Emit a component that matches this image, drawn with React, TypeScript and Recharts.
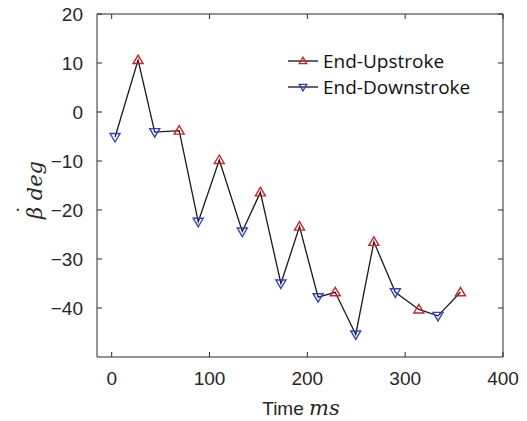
import React from "react";
import { LineChart, Line, XAxis, YAxis, ReferenceLine } from "recharts";

const times = [3.5, 27, 44, 69, 88.5, 110, 133.5, 152, 173, 192, 211, 228.5, 249.5, 268, 290, 314, 333.5, 356.5];
const values = [-5.1, 10.6, -4.1, -3.8, -22.4, -9.8, -24.4, -16.4, -35.0, -23.4, -37.8, -36.8, -45.4, -26.5, -36.8, -40.3, -41.6, -36.8];
const phases = ["down", "up", "down", "up", "down", "up", "down", "up", "down", "up", "down", "up", "down", "up", "down", "up", "down", "up"];
const xTicks = [0, 100, 200, 300, 400];
const yTicks = [-40, -30, -20, -10, 0, 10, 20];
const xDomain: [number, number] = [-15, 400];
const yDomain: [number, number] = [-50, 20];
const legendLabels = ["End-Upstroke", "End-Downstroke"];

const data = times.map((t, i) => ({ t, v: values[i], phase: phases[i] }));

const RED = "#c1272d";
const BLUE = "#3342b8";
const FRAME = "#2b2b2b";
const TICK = 5;

const fmt = (v: number) => (v < 0 ? "\u2212" + Math.abs(v) : String(v));

const triPath = (cx: number, cy: number, up: boolean, s = 1) =>
  up
    ? `M${cx},${cy - 5 * s} L${cx + 5 * s},${cy + 3.5 * s} L${cx - 5 * s},${cy + 3.5 * s} Z`
    : `M${cx},${cy + 5 * s} L${cx + 5 * s},${cy - 3.5 * s} L${cx - 5 * s},${cy - 3.5 * s} Z`;

const Dot = (props: any) => {
  const { cx, cy, payload, index } = props;
  const up = payload.phase === "up";
  return (
    <path
      key={`d${index}`}
      d={triPath(cx, cy, up)}
      fill="none"
      stroke={up ? RED : BLUE}
      strokeWidth={1.4}
    />
  );
};

const BottomTick = (props: any) => {
  const { x, y, payload } = props;
  return (
    <text x={x} y={y + 28} textAnchor="middle" fontFamily="Liberation Sans, Arial, sans-serif" fontSize={19} fill="#262626">
      {fmt(payload.value)}
    </text>
  );
};

const LeftTick = (props: any) => {
  const { x, y, payload } = props;
  return (
    <text x={x - 14} y={y + 7} textAnchor="end" fontFamily="Liberation Sans, Arial, sans-serif" fontSize={19} fill="#262626">
      {fmt(payload.value)}
    </text>
  );
};

const VTickShape = (props: any) => {
  const { x1, y1, x2, y2 } = props;
  const top = Math.min(y1, y2);
  const bot = Math.max(y1, y2);
  return (
    <g>
      <line x1={x1} x2={x2} y1={top} y2={top + TICK} stroke={FRAME} strokeWidth={1} />
      <line x1={x1} x2={x2} y1={bot} y2={bot - TICK} stroke={FRAME} strokeWidth={1} />
    </g>
  );
};

const HTickShape = (props: any) => {
  const { x1, y1, x2, y2 } = props;
  const l = Math.min(x1, x2);
  const r = Math.max(x1, x2);
  return (
    <g>
      <line x1={l} x2={l + TICK} y1={y1} y2={y2} stroke={FRAME} strokeWidth={1} />
      <line x1={r} x2={r - TICK} y1={y1} y2={y2} stroke={FRAME} strokeWidth={1} />
    </g>
  );
};

const LegendItem = ({ label, up, top }: { label: string; up: boolean; top: number }) => (
  <div style={{ position: "absolute", left: 288, top, height: 26, display: "flex", alignItems: "center" }}>
    <svg width={31} height={26} style={{ display: "block" }}>
      <line x1={0} x2={30} y1={13} y2={13} stroke="#111" strokeWidth={1.3} />
      <path d={triPath(15, 13, up, 0.75)} fill="none" stroke={up ? RED : BLUE} strokeWidth={1.4} />
    </svg>
    <span style={{ fontFamily: "'Open Sans', sans-serif", fontSize: 19, color: "#111", marginLeft: 4, whiteSpace: "nowrap", lineHeight: "26px" }}>
      {label}
    </span>
  </div>
);

export default function App() {
  return (
    <div style={{ position: "relative", width: 527, height: 421, marginTop: -8, marginLeft: -8 }}>
      <LineChart
        width={527}
        height={421}
        data={data}
        margin={{ top: 14, right: 24, bottom: 0, left: 0 }}
      >
        <XAxis
          dataKey="t"
          type="number"
          domain={xDomain}
          ticks={xTicks}
          interval={0}
          allowDataOverflow
          height={64}
          tickSize={0}
          tickMargin={0}
          tickLine={false}
          tick={<BottomTick />}
          axisLine={false}
        />
        <YAxis
          type="number"
          domain={yDomain}
          ticks={yTicks}
          interval={0}
          allowDataOverflow
          width={97}
          tickSize={0}
          tickMargin={0}
          tickLine={false}
          tick={<LeftTick />}
          axisLine={false}
        />
        <ReferenceLine x={xDomain[0]} stroke={FRAME} strokeWidth={1} ifOverflow="visible" />
        <ReferenceLine x={xDomain[1]} stroke={FRAME} strokeWidth={1} ifOverflow="visible" />
        <ReferenceLine y={yDomain[0]} stroke={FRAME} strokeWidth={1} ifOverflow="visible" />
        <ReferenceLine y={yDomain[1]} stroke={FRAME} strokeWidth={1} ifOverflow="visible" />
        {xTicks.map((t) => (
          <ReferenceLine key={`vx${t}`} x={t} shape={VTickShape} ifOverflow="visible" />
        ))}
        {yTicks.map((v) => (
          <ReferenceLine key={`hy${v}`} y={v} shape={HTickShape} ifOverflow="visible" />
        ))}
        <Line
          dataKey="v"
          stroke="#1a1a1a"
          strokeWidth={1.3}
          dot={Dot}
          activeDot={false}
          isAnimationActive={false}
        />
      </LineChart>
      <LegendItem label={legendLabels[0]} up={true} top={48} />
      <LegendItem label={legendLabels[1]} up={false} top={74} />
      <div
        style={{
          position: "absolute",
          left: 0,
          width: 602,
          top: 397,
          textAlign: "center",
          fontSize: 19,
          color: "#262626",
          whiteSpace: "nowrap",
          lineHeight: "22px",
        }}
      >
        <span style={{ fontFamily: "Liberation Sans, Arial, sans-serif" }}>Time </span>
        <span style={{ fontFamily: "'DejaVu Serif', serif", fontStyle: "italic", fontSize: 21 }}>ms</span>
      </div>
      <div style={{ position: "absolute", left: 35, top: 190, width: 0, height: 0 }}>
        <div
          style={{
            position: "absolute",
            left: -60,
            top: -12,
            width: 120,
            textAlign: "center",
            transform: "rotate(-90deg)",
            fontFamily: "'DejaVu Serif', serif",
            fontStyle: "italic",
            fontSize: 21,
            color: "#262626",
            whiteSpace: "nowrap",
            lineHeight: "24px",
          }}
        >
          <span style={{ position: "relative", display: "inline-block" }}>
            {"\u03B2"}
            <span style={{ position: "absolute", left: 4, top: -10, fontStyle: "normal" }}>{"\u02D9"}</span>
          </span>
          {" deg"}
        </div>
      </div>
    </div>
  );
}
